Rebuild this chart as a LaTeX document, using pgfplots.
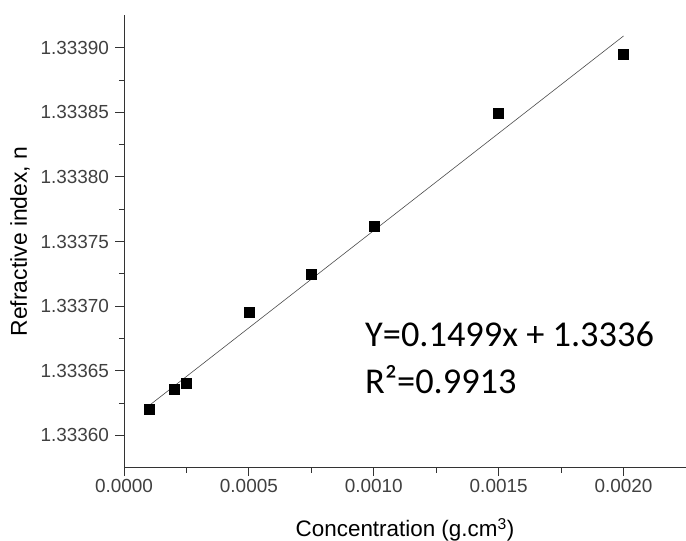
\documentclass[border=0pt]{standalone}
\usepackage{pgfplots}
\pgfplotsset{compat=1.18}
\usepackage{fontspec}
\setmainfont{Liberation Sans}
\newfontfamily\calibri{Carlito}
\definecolor{tickgray}{HTML}{404040}

\begin{document}
\begin{tikzpicture}
\path[use as bounding box] (-124bp,-73.3bp) rectangle (562bp,467.7bp);
\begin{axis}[
    at={(0,0)}, anchor=south west,
    scale only axis, width=562bp, height=452.4bp,
    xmin=0, xmax=0.00225,
    ymin=1.333575, ymax=1.333925,
    axis lines*=left,
    axis line style={black!80, line width=0.8bp},
    tick style={black!80, line width=0.8bp},
    tick align=outside,
    major tick length=8.5bp, minor tick length=5bp,
    xtick={0,0.0005,0.001,0.0015,0.002},
    xticklabels={0.0000,0.0005,0.0010,0.0015,0.0020},
    minor xtick={0.00025,0.00075,0.00125,0.00175,0.00225},
    ytick={1.3336,1.33365,1.3337,1.33375,1.3338,1.33385,1.3339},
    yticklabels={1.33360,1.33365,1.33370,1.33375,1.33380,1.33385,1.33390},
    minor ytick={1.333625,1.333675,1.333725,1.333775,1.333825,1.333875},
    scaled x ticks=false, scaled y ticks=false,
    /pgf/number format/assume math mode=true,
    ticklabel style={font=\fontsize{19}{22}\selectfont, text=tickgray},
    yticklabel style={xshift=-3bp},
    xlabel={Concentration (g.cm\textsuperscript{3})},
    ylabel={Refractive index, n},
    xlabel style={font=\fontsize{22.5}{26}\selectfont, at={(axis description cs:0.5,-0.1525)}, anchor=base},
    ylabel style={font=\fontsize{23}{26}\selectfont, at={(axis description cs:-0.185,0.5)}, anchor=center},
    clip=false,
]
% linear fit
\addplot[black!70, line width=0.6bp] coordinates {
    (0.0001,1.333623) (0.002,1.333909) };
% measured points
\addplot[only marks, mark=square*, mark size=5bp, black] coordinates {
    (0.0001,1.333620) (0.0002,1.333636) (0.00025,1.333640)
    (0.0005,1.333695) (0.00075,1.333725) (0.001,1.333762)
    (0.0015,1.333849) (0.002,1.333895) };
\node[anchor=base west, inner sep=0pt, font=\calibri\fontsize{36.5}{40}\selectfont]
    at (rel axis cs:0.4288,0.2675) {Y=0.1499x + 1.3336};
\node[anchor=base west, inner sep=0pt, font=\calibri\fontsize{36.5}{40}\selectfont]
    at (rel axis cs:0.4288,0.165) {R²=0.9913};
\end{axis}
\end{tikzpicture}
\end{document}
